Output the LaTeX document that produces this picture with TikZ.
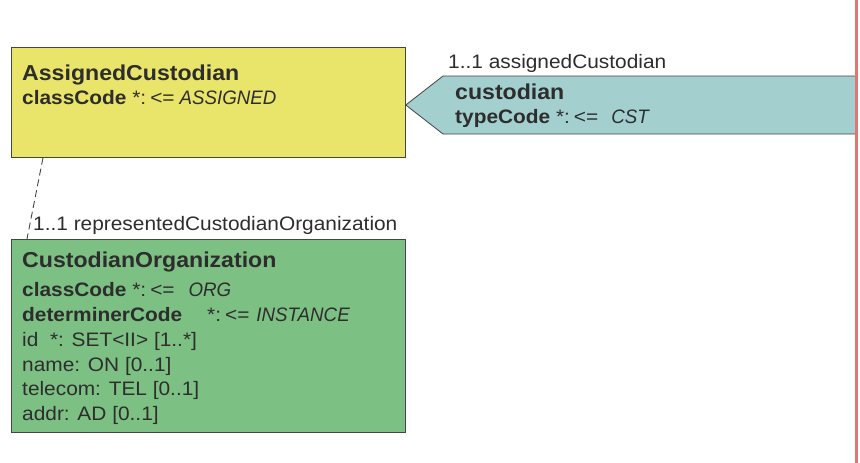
\documentclass[tikz,border=0pt]{standalone}
\usepackage{fontspec}
\setmainfont{Liberation Sans}[FakeStretch=1.07, ItalicFeatures={FakeStretch=0.96}]
\usetikzlibrary{positioning}

\definecolor{classyellow}{RGB}{233,228,106}
\definecolor{classgreen}{RGB}{125,192,131}
\definecolor{classteal}{RGB}{163,207,207}
\definecolor{boxline}{RGB}{68,68,68}
\definecolor{ink}{RGB}{45,45,45}
\definecolor{borderred}{RGB}{224,118,118}

\newcommand{\codeis}{*:\hspace{4pt}<=}

\begin{document}
\begin{tikzpicture}[
  x=1pt, y=-1pt,
  classbox/.style={draw=boxline, line width=0.8pt, anchor=north west, inner sep=0pt, minimum width=394pt},
  title/.style={anchor=base west, inner sep=0pt, text=ink, font=\fontsize{21.6}{25}\selectfont\bfseries},
  attr/.style={anchor=base west, inner sep=0pt, text=ink, font=\fontsize{19.5}{22}\selectfont},
  role/.style={anchor=base west, inner sep=0pt, text=ink, font=\fontsize{19.5}{22}\selectfont}
]
\useasboundingbox (0,0) rectangle (860,463);

% class boxes
\node[classbox, fill=classyellow, minimum height=110pt] (assigned) at (11,47) {};
\node[classbox, fill=classgreen, minimum height=193pt] (org) at (11,239) {};

% choice arrow of the participation
\draw[boxline, line width=0.8pt, fill=classteal]
  (assigned.east |- 0,105) -- (443,76) -- (856,76) -- (856,134) -- (443,134) -- cycle;
\coordinate (tip) at (assigned.east |- 0,105);

% border of the model
\draw[borderred, line width=3pt] (856.5,0) -- (856.5,463);

% AssignedCustodian
\node[title] (assignedname) at (22,80) {AssignedCustodian};
\node[attr]  (assignedclass) at (22,104) {\textbf{classCode} \codeis\hspace{5pt}\textit{ASSIGNED}};

% custodian participation
\node[role]  (custrole) at (448,68) {1..1 assignedCustodian};
\node[title] (custname) at (455,99) {custodian};
\node[attr]  (custtype) at (455,123) {\textbf{typeCode} \codeis\hspace{13pt}\textit{CST}};

% CustodianOrganization
\node[role]  (orgrole) at (33,230) {1..1 representedCustodianOrganization};
\node[title] (orgname) at (22,267) {CustodianOrganization};
\node[attr]  (orgclass) at (22,296) {\textbf{classCode} \codeis\hspace{14pt}\textit{ORG}};
\node[attr]  (orgdet)   at (22,321) {\textbf{determinerCode}\hspace{25pt}\codeis\hspace{7pt}\textit{INSTANCE}};
\node[attr]  (orgid)    at (22,346) {id~ *: SET<II> [1..*]};
\node[attr]  (orgname2) at (22,371) {name: ON [0..1]};
\node[attr]  (orgtel)   at (22,395) {telecom: TEL [0..1]};
\node[attr]  (orgaddr)  at (22,420) {addr: AD [0..1]};

% scoper association
\draw[boxline, line width=0.9pt, dash pattern=on 7pt off 4pt]
  ([xshift=32pt]assigned.south west) -- ([xshift=16pt]org.north west);

\end{tikzpicture}
\end{document}
